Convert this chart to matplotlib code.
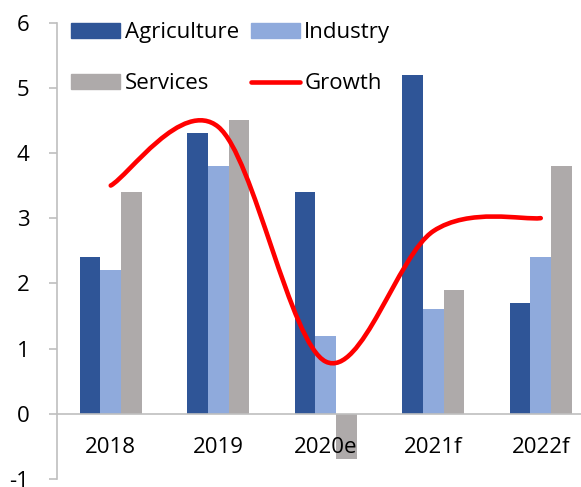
import numpy as np
import matplotlib
matplotlib.use('Agg')
import matplotlib.pyplot as plt
from matplotlib.path import Path
from matplotlib.patches import PathPatch, Patch
from matplotlib.lines import Line2D

plt.rcParams['font.family'] = ['Open Sans', 'DejaVu Sans']
plt.rcParams['axes.unicode_minus'] = False

# %% data
years = ['2018', '2019', '2020e', '2021f', '2022f']
agriculture = [2.4, 4.3, 3.4, 5.2, 1.7]
industry = [2.2, 3.8, 1.2, 1.6, 2.4]
services = [3.4, 4.5, -0.7, 1.9, 3.8]
growth = [3.5, 4.4, 0.8, 2.8, 3.0]

c_agri = '#2F5597'
c_ind = '#8FAADC'
c_serv = '#AEAAAA'
c_axis = '#BFBFBF'

fig = plt.figure(figsize=(5.81, 4.87), dpi=100)
ax = fig.add_axes([57 / 581, 8 / 487, 537.5 / 581, 456.5 / 487])

x = np.arange(len(years))
w = 0.193
ax.bar(x - w, agriculture, w, color=c_agri)
ax.bar(x, industry, w, color=c_ind)
ax.bar(x + w, services, w, color=c_serv)

# smoothed growth line (Excel style bezier through the points)
pts = np.column_stack([x, growth]).astype(float)
n = len(pts)
verts = [tuple(pts[0])]
codes = [Path.MOVETO]
for i in range(n - 1):
    p0 = pts[max(i - 1, 0)]
    p1 = pts[i]
    p2 = pts[i + 1]
    p3 = pts[min(i + 2, n - 1)]
    c1 = p1 + (p2 - p0) / 6
    c2 = p2 - (p3 - p1) / 6
    verts += [tuple(c1), tuple(c2), tuple(p2)]
    codes += [Path.CURVE4] * 3
ax.add_patch(PathPatch(Path(verts, codes), fill=False, edgecolor='#FF0000',
                       lw=3.3, capstyle='round', zorder=5))

ax.set_xlim(-0.5, 4.5)
ax.set_ylim(-1, 6)
ax.set_yticks(range(-1, 7))
ax.set_xticks(x)
ax.set_xticklabels(years)

for s in ['top', 'right']:
    ax.spines[s].set_visible(False)
ax.spines['bottom'].set_position(('data', 0))
ax.spines['bottom'].set_color(c_axis)
ax.spines['left'].set_color(c_axis)
ax.spines['bottom'].set_linewidth(1.2)
ax.spines['left'].set_linewidth(1.2)
ax.tick_params(axis='x', length=0, pad=17, labelsize=16, colors='black')
ax.tick_params(axis='y', length=6, width=1.2, color=c_axis, pad=14, labelsize=16)

handles = [Patch(color=c_agri), Patch(color=c_ind),
           Patch(color=c_serv), Line2D([], [], color='#FF0000', lw=3.3, solid_capstyle='round')]
labels = ['Agriculture', 'Industry', 'Services', 'Growth']
# order so that rows are Agriculture/Industry, Services/Growth
ax.legend([handles[0], handles[2], handles[1], handles[3]],
          [labels[0], labels[2], labels[1], labels[3]],
          ncol=2, frameon=False, fontsize=16, loc='upper left',
          bbox_to_anchor=(0.01, 1.02), handlelength=2.2, handleheight=0.65,
          handletextpad=0.2, columnspacing=0.55, labelspacing=1.35,
          borderaxespad=0)

fig.savefig('out.png', dpi=100)
